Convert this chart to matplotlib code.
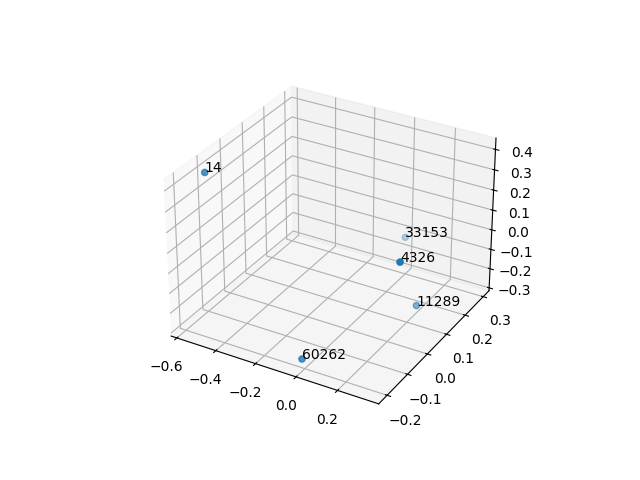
import matplotlib
matplotlib.use('Agg')
import matplotlib.pyplot as plt

labels = ['14', '33153', '4326', '11289', '60262']
xs = [-0.545, -0.022, 0.368, 0.245, 0.008]
ys = [-0.14, 0.32, -0.12, 0.10, -0.22]
zs = [0.428, -0.147, 0.244, -0.215, -0.243]

fig = plt.figure(figsize=(6.4, 4.8), dpi=100)
ax = fig.add_subplot(projection='3d')
ax.scatter(xs, ys, zs)
for x, y, z, s in zip(xs, ys, zs, labels):
    ax.text(x, y, z, s)
ax.set_xlim(-0.63, 0.395)
ax.set_ylim(-0.24, 0.333)
ax.set_zlim(-0.315, 0.455)
fig.savefig('out.png')
